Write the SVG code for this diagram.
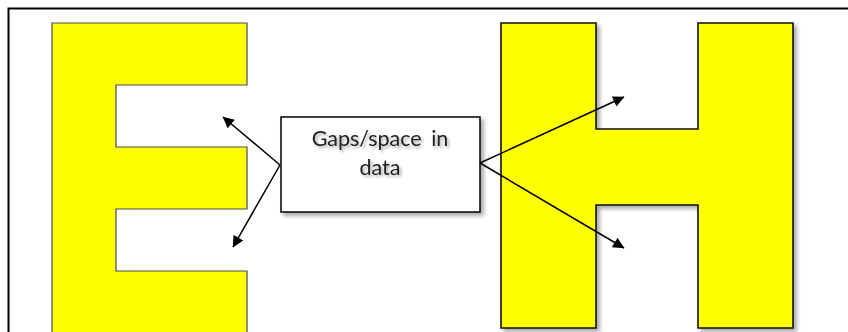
<svg xmlns="http://www.w3.org/2000/svg" width="848" height="332" viewBox="0 0 848 332">
<defs>
<style>
.e{fill:#ffff00;stroke:#4a4a5a;stroke-width:1.2}
.h{fill:#ffff00;stroke:#111;stroke-width:1.6;filter:url(#sh)}
.box{fill:#fff;stroke:#111;stroke-width:1.6;filter:url(#sh)}
.c{stroke:#000;stroke-width:1.5;fill:none;marker-end:url(#ah)}
.t{font-family:Lato,"Open Sans",sans-serif;font-size:21.5px;fill:#222;text-anchor:middle;word-spacing:4px}
</style>
<filter id="sh" x="-10%" y="-10%" width="130%" height="130%">
<feGaussianBlur in="SourceAlpha" stdDeviation="2"/>
<feOffset dx="3" dy="3" result="b"/>
<feComponentTransfer><feFuncA type="linear" slope="0.35"/></feComponentTransfer>
<feMerge><feMergeNode/><feMergeNode in="SourceGraphic"/></feMerge>
</filter>
<filter id="ts" x="-10%" y="-30%" width="120%" height="160%">
<feGaussianBlur in="SourceAlpha" stdDeviation="1.5"/>
<feOffset dx="1.5" dy="2"/>
<feComponentTransfer><feFuncA type="linear" slope="0.35"/></feComponentTransfer>
<feMerge><feMergeNode/><feMergeNode in="SourceGraphic"/></feMerge>
</filter>
<marker id="ah" viewBox="0 0 10 10" refX="9" refY="5" markerWidth="7" markerHeight="7" markerUnits="userSpaceOnUse" orient="auto" style="overflow:visible">
<path d="M0,0 L10,5 L0,10 z" fill="#000" transform="scale(1.6) translate(-4,-1.9)"/>
</marker>
</defs>
<rect width="848" height="332" fill="#fff"/>
<path d="M8.5,340 V8.5 H850" fill="none" stroke="#000" stroke-width="2"/>
<g id="letter-e">
<path class="e" d="M52,340 V23 H247 V85 H116 V147 H247 V209 H116 V271 H247 V340 Z"/>
</g>
<g id="letter-h">
<path class="h" d="M501,23 H596 V129 H698 V23 H793 V328 H698 V205 H596 V328 H501 Z"/>
</g>
<g id="gap-box">
<rect class="box" x="281" y="117" width="199" height="95"/>
<g filter="url(#ts)">
<text class="t" x="380" y="146">Gaps/space in</text>
<text class="t" x="380" y="175">data</text>
</g>
</g>
<g id="connectors">
<line class="c" x1="280" y1="165" x2="223" y2="117"/>
<line class="c" x1="280" y1="165" x2="233" y2="247"/>
<line class="c" x1="480" y1="163" x2="624" y2="97"/>
<line class="c" x1="480" y1="163" x2="624" y2="248"/>
</g>
</svg>
